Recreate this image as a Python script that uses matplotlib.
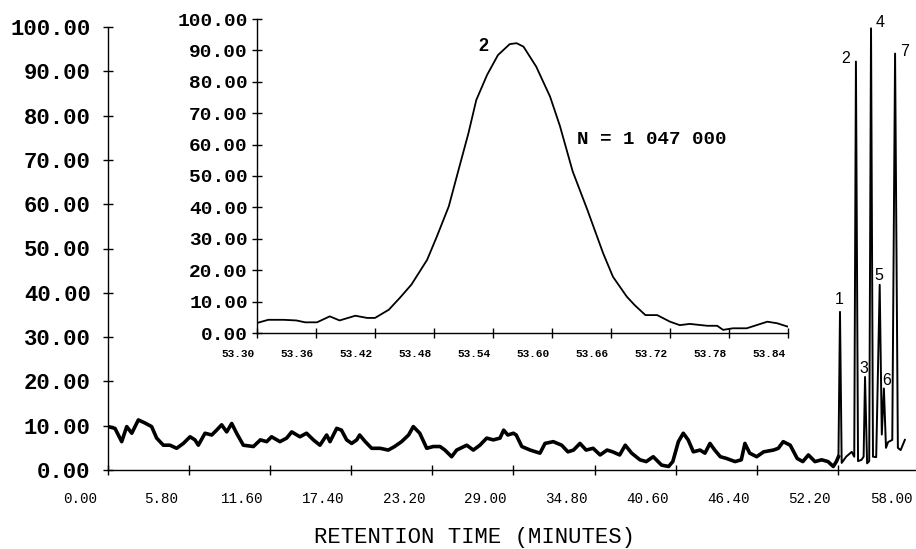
import matplotlib
matplotlib.use("Agg")
import matplotlib.pyplot as plt
import matplotlib.transforms as mtransforms
import numpy as np

# Full chromatogram (retention time in minutes, abundance)
main_time = [0.0, 0.5, 0.98, 1.34, 1.7, 2.17, 2.65, 3.12, 3.48, 3.96, 4.43, 4.91,
             5.39, 5.87, 6.22, 6.46, 6.94, 7.42, 7.77, 8.13, 8.49, 8.85, 9.2, 9.68,
             10.4, 10.9, 11.35, 11.7, 12.3, 12.78, 13.14, 13.73, 14.2, 14.69, 15.16,
             15.64, 15.88, 16.36, 16.7, 17.07, 17.43, 17.79, 18.0, 18.4, 18.86, 19.46,
             20.05, 20.5, 21.0, 21.5, 21.84, 22.3, 22.8, 23.27, 23.75, 24.1, 24.58,
             24.94, 25.66, 26.13, 26.6, 27.09, 27.56, 28.04, 28.3, 28.6, 29.0, 29.2,
             29.6, 30.2, 30.9, 31.26, 31.85, 32.45, 32.9, 33.3, 33.76, 34.2, 34.7,
             35.2, 35.7, 36.1, 36.6, 37.0, 37.46, 38.05, 38.5, 39.0, 39.6, 40.1, 40.4,
             40.8, 41.15, 41.5, 41.87, 42.35, 42.7, 43.06, 43.4, 43.8, 44.25, 44.85,
             45.3, 45.56, 45.9, 46.4, 46.9, 47.6, 47.95, 48.3, 48.8, 49.3, 49.7, 50.1,
             50.57, 51.05, 51.5, 51.88, 52.1, 52.25,
             52.36, 52.48, 52.8, 53.2, 53.38, 53.5, 53.65, 53.9, 54.05, 54.15, 54.3,
             54.45, 54.58, 54.72, 54.95, 55.2, 55.35, 55.5, 55.65, 55.8, 56.1, 56.3,
             56.5, 56.7, 57.0]
main_signal = [9.8, 9.4, 6.4, 9.8, 8.3, 11.3, 10.6, 9.8, 7.2, 5.6, 5.6, 4.9,
               6.0, 7.5, 6.8, 5.6, 8.3, 7.9, 9.0, 10.2, 8.6, 10.5, 8.3, 5.6,
               5.3, 6.8, 6.4, 7.5, 6.4, 7.2, 8.6, 7.5, 8.3, 6.8, 5.6,
               7.9, 6.4, 9.4, 9.0, 6.8, 6.0, 6.8, 7.9, 6.4, 4.9, 4.9,
               4.5, 5.3, 6.4, 7.9, 9.8, 8.3, 4.9, 5.3, 5.3, 4.5, 3.0,
               4.5, 5.6, 4.5, 5.6, 7.2, 6.8, 7.2, 9.0, 7.9, 8.3, 7.9,
               5.3, 4.5, 3.8, 6.0, 6.4, 5.6, 4.1, 4.5, 6.0, 4.5, 4.9,
               3.4, 4.5, 4.1, 3.4, 5.6, 3.8, 2.3, 1.9, 3.0, 1.1, 0.8, 1.9,
               6.4, 8.3, 6.8, 4.1, 4.5, 3.8, 6.0, 4.5, 3.0, 2.6, 1.9,
               2.3, 6.0, 3.8, 3.0, 4.1, 4.5, 4.9, 6.4, 5.6, 2.6, 1.9, 3.4,
               1.9, 2.3, 1.9, 0.8, 1.9, 3.0,
               35.7, 1.6, 3.0, 4.1, 3.0, 92.2, 2.0, 2.3, 3.0, 21.0, 1.5,
               2.0, 99.7, 3.0, 2.9, 41.8, 8.0, 18.4, 5.0, 6.3, 6.8, 94.0,
               5.0, 4.5, 6.8]
peak_start = 52.2  # peaks region drawn with a thinner pen

peak_names = ["1", "2", "3", "4", "5", "6", "7"]
peak_label_time = [52.29, 52.79, 54.08, 55.22, 55.15, 55.72, 57.01]
peak_label_signal = [38.6, 93.0, 23.0, 101.1, 44.0, 20.1, 94.4]

# Expanded view of peak 2
inset_time = [53.300, 53.3115, 53.327, 53.340, 53.349, 53.361, 53.374, 53.384,
              53.400, 53.412, 53.420, 53.434, 53.445, 53.457, 53.473, 53.483,
              53.495, 53.505, 53.515, 53.523, 53.534, 53.545, 53.557, 53.564,
              53.571, 53.584, 53.598, 53.608, 53.621, 53.636, 53.652, 53.662,
              53.676, 53.684, 53.695, 53.707, 53.720, 53.730, 53.740, 53.758,
              53.768, 53.774, 53.784, 53.798, 53.808, 53.819, 53.829, 53.840]
inset_signal = [3.2, 4.2, 4.2, 4.0, 3.4, 3.4, 5.3, 4.0,
                5.5, 4.8, 4.8, 7.4, 11.1, 15.4, 23.3, 30.8,
                40.3, 52.0, 63.6, 74.2, 82.2, 88.5, 92.0, 92.3,
                91.2, 84.8, 75.3, 66.0, 51.5, 39.2, 25.4, 17.9,
                11.6, 8.9, 5.7, 5.7, 3.6, 2.5, 2.9, 2.3,
                2.3, 1.0, 1.5, 1.5, 2.5, 3.6, 3.1, 2.0]

main_xticks = [0.0, 5.8, 11.6, 17.4, 23.2, 29.0, 34.8, 40.6, 46.4, 52.2, 58.0]
inset_xticks = [53.30, 53.36, 53.42, 53.48, 53.54, 53.60, 53.66, 53.72, 53.78, 53.84]
yticks = [0, 10, 20, 30, 40, 50, 60, 70, 80, 90, 100]

MONO = "Liberation Mono"
W, H = 916, 549


def px_box(left, top, right, bottom):
    return [left / W, 1 - bottom / H, (right - left) / W, (bottom - top) / H]


fig = plt.figure(figsize=(W / 100, H / 100), dpi=100)
fig.patch.set_facecolor("white")

# main chromatogram
ax = fig.add_axes(px_box(108, 27, 930, 470))
t = np.array(main_time)
s = np.array(main_signal)
base = t <= peak_start + 0.06
ax.plot(t[base], s[base], color="black", lw=2.6, solid_joinstyle="round")
ax.plot(t[t >= peak_start - 0.16], s[t >= peak_start - 0.16], color="black", lw=1.4)
ax.set_xlim(0, (930 - 108) / 13.98)
ax.set_ylim(0, 100)
for side in ["top", "right"]:
    ax.spines[side].set_visible(False)
for side in ["left", "bottom"]:
    ax.spines[side].set_linewidth(1.0)
ax.set_xticks(main_xticks)
ax.set_xticklabels(["%.2f" % v for v in main_xticks], fontfamily=MONO, fontsize=10.3)
ax.set_yticks(yticks)
ax.set_yticklabels(["%.2f" % v for v in yticks], fontfamily=MONO, fontsize=16,
                   fontweight="bold")
ax.tick_params(axis="both", direction="inout", length=7, width=1.0)
ax.tick_params(axis="x", pad=12)
ax.tick_params(axis="y", pad=9)
shift = mtransforms.ScaledTranslation(-0.28, 0, fig.dpi_scale_trans)
for lbl in ax.get_xticklabels():
    lbl.set_transform(lbl.get_transform() + shift)

for name, lx, ly in zip(peak_names, peak_label_time, peak_label_signal):
    ax.text(lx, ly, name, ha="center", va="center", fontsize=11.5,
            family="Liberation Sans", clip_on=False)

fig.text(474 / W, 1 - 538 / H, "RETENTION TIME (MINUTES)", ha="center",
         va="center", fontfamily=MONO, fontsize=16)

# inset of peak 2
ins = fig.add_axes(px_box(257, 19, 788, 333))
ins.patch.set_alpha(0)
ins.plot(inset_time, inset_signal, color="black", lw=1.3)
ins.set_xlim(53.30, 53.84)
ins.set_ylim(0, 100)
for side in ["top", "right"]:
    ins.spines[side].set_visible(False)
for side in ["left", "bottom"]:
    ins.spines[side].set_linewidth(1.0)
ins.set_xticks(inset_xticks)
ins.set_xticklabels(["%.2f" % v for v in inset_xticks], fontfamily=MONO,
                    fontsize=8, fontweight="bold")
ins.set_yticks(yticks)
ins.set_yticklabels(["%.2f" % v for v in yticks], fontfamily=MONO, fontsize=14,
                    fontweight="bold")
ins.tick_params(axis="both", direction="inout", length=7, width=1.0)
ins.tick_params(axis="x", pad=8)
ins.tick_params(axis="y", pad=3)
shift2 = mtransforms.ScaledTranslation(-0.19, 0, fig.dpi_scale_trans)
for lbl in ins.get_xticklabels():
    lbl.set_transform(lbl.get_transform() + shift2)

ins.text(53.530, 91.1, "2", ha="center", va="center", fontsize=13,
         family="Liberation Sans", fontweight="bold")
ins.text(53.625, 61.5, "N = 1 047 000", ha="left", va="center",
         fontfamily=MONO, fontsize=13.8, fontweight="bold")

fig.savefig("out.png", dpi=100)
